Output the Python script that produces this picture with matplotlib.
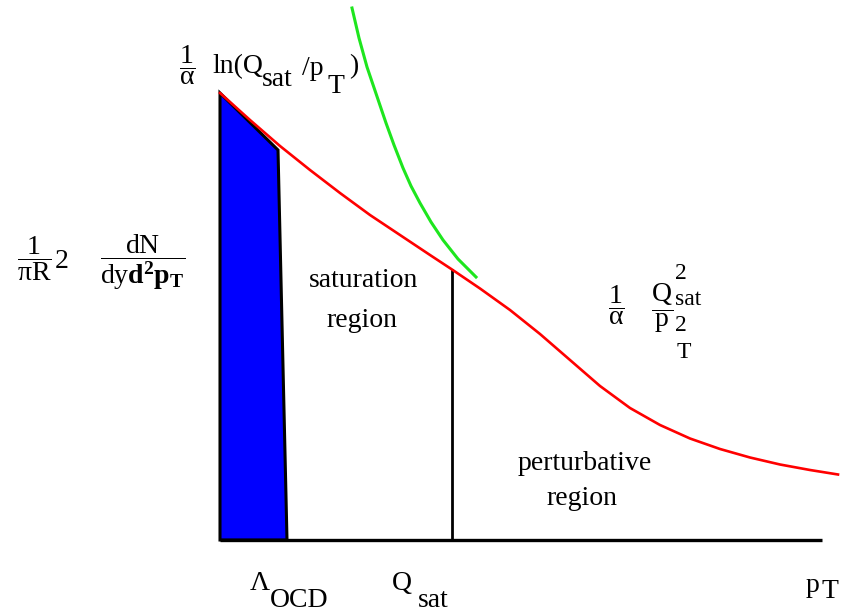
import numpy as np
import matplotlib
matplotlib.use("Agg")
from matplotlib import pyplot as plt

plt.rcParams['font.family'] = ['Liberation Serif', 'DejaVu Serif']
plt.rcParams['mathtext.fontset'] = 'custom'
plt.rcParams['mathtext.rm'] = 'Liberation Serif'
plt.rcParams['mathtext.it'] = 'Liberation Serif:italic'
plt.rcParams['mathtext.bf'] = 'Liberation Serif:bold'

# schematic curves, in picture units (x to the right, y downwards)
red_x = [220, 250, 280, 310, 340, 370, 400, 430, 452, 480, 510, 540, 570, 600, 630, 660, 690, 720, 750, 780, 810, 838]
red_y = [93, 120, 146, 170, 193, 215, 235, 255, 269.5, 288.5, 310, 334, 360, 386, 408, 425, 438.5, 449, 457.5, 464.5, 470, 474.5]

green_x = [352, 359, 367, 376.5, 386, 394, 403, 411, 420, 431, 443, 458, 476]
green_y = [8, 38, 67, 95, 123, 145, 168, 186, 203, 222, 240, 259, 277]

# non-perturbative (blue) band
blue_x = [220, 278, 287, 220]
blue_y = [93, 150, 540, 540]

# axes and Q_sat marker
axis_x = [220, 822]
axis_y0 = 540
qsat_x = 452
qsat_top = 270

fig = plt.figure(figsize=(8.44, 6.14), dpi=100)
ax = fig.add_axes([0, 0, 1, 1])
ax.set_xlim(0, 844)
ax.set_ylim(614, 0)
ax.axis('off')

ax.fill(blue_x, blue_y, facecolor='#0000FF', edgecolor='black', linewidth=2.2, zorder=2)
ax.plot(axis_x, [axis_y0, axis_y0], color='black', linewidth=2.4, solid_capstyle='butt', zorder=3)
ax.plot([qsat_x, qsat_x], [qsat_top, axis_y0], color='black', linewidth=2.0, zorder=3)
ax.plot(red_x, red_y, color='#FF0000', linewidth=1.9, zorder=4, solid_joinstyle='round')
ax.plot(green_x, green_y, color='#1EE61E', linewidth=2.2, zorder=4, solid_joinstyle='round')

fs = 20
kw = dict(fontsize=fs, color='black', ha='left', va='baseline')
kw_s = dict(kw, fontsize=17)

# top label: 1/alpha ln(Q_sat/p_T)
ax.text(187, 65, r'$\dfrac{1}{\mathrm{\alpha}}$', fontsize=fs, ha='center', va='center')
ax.text(212, 73, 'ln(Q', **kw)
ax.text(262, 86, 'sat', **kw)
ax.text(302, 75, '/p', **kw)
ax.text(327, 93, 'T', **kw)
ax.text(349, 73, ')', **kw)

# y-axis label
ax.text(34, 259, r'$\dfrac{1}{\mathrm{\pi R}}$', fontsize=fs, ha='center', va='center')
ax.text(55, 268, '2', **kw)
ax.text(100, 262, r'$\dfrac{\mathrm{dN}}{\mathrm{dy}\mathbf{d^2p_T}}$', fontsize=fs, ha='left', va='center')

# region labels
ax.text(364, 287, 'saturation', fontsize=fs, ha='center', va='baseline')
ax.text(362, 327, 'region', fontsize=fs, ha='center', va='baseline')
ax.text(585, 470, 'perturbative', fontsize=fs, ha='center', va='baseline')
ax.text(582, 505, 'region', fontsize=fs, ha='center', va='baseline')

# perturbative tail label: 1/alpha Q_sat^2 / p_T^2
ax.text(616, 305, r'$\dfrac{1}{\mathrm{\alpha}}$', fontsize=fs, ha='center', va='center')
ax.text(662, 308, r'$\dfrac{\mathrm{Q}}{\mathrm{p}}$', fontsize=fs, ha='center', va='center')
ax.text(675, 279, '2', **kw_s)
ax.text(675, 305, 'sat', **kw_s)
ax.text(675, 331, '2', **kw_s)
ax.text(677, 357.5, 'T', **kw_s)

# x-axis labels
ax.text(250, 590, 'Λ', **kw)
ax.text(270, 607, 'OCD', **kw)
ax.text(392, 590, 'Q', **kw)
ax.text(418, 607, 'sat', **kw)
ax.text(806, 592, 'p', **kw)
ax.text(821, 598, 'T', **kw)

plt.savefig('out.png', dpi=100)
